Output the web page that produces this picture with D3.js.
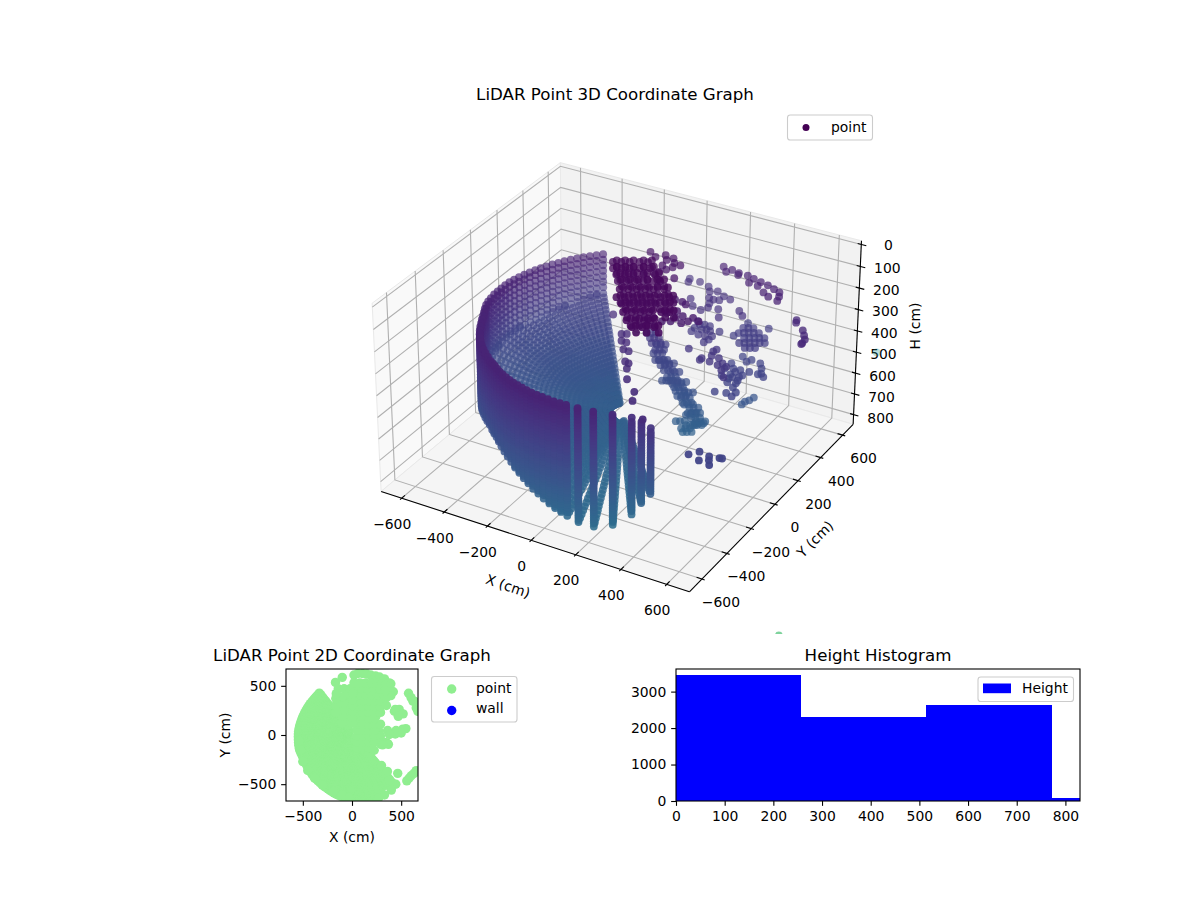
<!DOCTYPE html>
<html><head><meta charset="utf-8"><style>html,body{margin:0;background:#fff}text{font-family:"DejaVu Sans";fill:#000}</style>
<script src="https://cdn.jsdelivr.net/npm/d3@7/dist/d3.min.js"></script></head><body><svg id="c" width="1200" height="900"></svg>
<script>
// --- scan wall: one entry per azimuth (deg), radius (cm), first and last height (cm)
const wallAzimuth=[128,131,134,137,140,143,146,149,152,155,158,161,164,167,170,173,176,179,182,185,188,191,194,197,200,203,206,209,212,215,218,221,224,227,230,233,236,239,242,244,246,248.25,250.5,252.75,255,257.25,259.5,261.75,264,266.25,268.5,270.75,273,275.25,277.5,279.75,282,286,291,297,303.6,307,310];
const wallRadius=[540,535,533,531,530,530,530,530,530,531,532,533,535,537,540,542,544,545,546,547,549,551,552,552,550,548,548,550,552,556,560,564,568,572,576,580,584,588,594,597,600,606,612,617,622,627,632,636,640,645,650,654,658,661,665,668,672,680,677,642,615,618,636];
const wallTop=[195,195,195,195,195,195,196,197,197,198,198,198,199,199,200,200,200,200,202,202,202,204,204,204,205,205,206,206,206,206,206,206,206,206,206,206,206,206,206,205,205,205,205,205,205,205,205,205,205,205,205,205,205,206,208,208,208,210,220,250,280,300,320];
const wallBottom=[380,385,390,395,400,405,410,415,420,424,428,430,432,434,436,440,442,445,450,458,466,476,488,500,515,535,550,560,558,552,546,538,530,525,520,518,516,515,520,525,530,537,545,555,565,577,590,602,615,627,640,652,665,678,690,700,710,725,740,750,720,668,617];
const scanLevels=[221,247,273,299,325,351,377,403,429,451,473,495,517,539,561,583,605,627,649,671,693,715,737,759,781];
const fineLevels=[208,234,260,286,312,338,364,390,416,440,462,484,506,528,550,572,594,616,638,660,682,704,726,748,770];
const fineFromAzimuth=200;
const ringShare=[.965,.93,.895,.86,.825,.79,.755,.72,.685,.65,.615,.58,.545,.51,.475,.44,.405,.37,.335,.30,.265,.23,.195,.16,.125,.09];
const bowlCenterH=640;
// --- separate returns, [x, y, height] in cm
const darkX=[-130,-101,-72,-38,-9,-103,-74,-46,-11,24,-66,-37,-8,27,67,-34,-5,24,53,87,110,5,34,63,91,120,155,27,55,84,113,142,176,205,70,98,127,156,185,219,108,137,166,195,235,264,152,181,210,232,196,231,271];
const darkY=[157,173,190,210,226,111,128,144,164,184,73,89,106,126,149,30,47,63,80,99,113,-23,-6,10,27,43,63,-86,-70,-53,-37,-20,0,16,-121,-105,-88,-72,-55,-35,-175,-158,-142,-125,-102,-86,-225,-209,-192,-179,-260,-241,-218];
const darkH=50;
const dark2X=[-102,-73,-44,-10,19,-75,-46,-18,17,52,-38,-9,20,55,95,-6,23,52,81,115,138,33,62,91,119,148,183,55,83,112,141,170,204,233,98,126,155,184,213,247,136,165,194,223,263,292,180,209,238,260,224,259,299];
const dark2Y=[140,156,173,193,209,94,111,127,147,167,56,72,89,109,132,13,30,46,63,82,96,-40,-23,-7,10,26,46,-103,-87,-70,-54,-37,-17,-1,-138,-122,-105,-89,-72,-52,-192,-175,-159,-142,-119,-103,-242,-226,-209,-196,-277,-258,-235];
const dark2H=58;
const dark3X=[-118,-89,-60,-26,3,-91,-62,-34,1,36,-54,-25,4,39,79,-22,7,36,65,99,122,17,46,75,103,132,167,39,67,96,125,154,188,217,82,110,139,168,197,231,120,149,178,207,247,276,164,193,222,244,208,243,283];
const dark3Y=[167,183,200,220,236,121,138,154,174,194,83,99,116,136,159,40,57,73,90,109,123,-13,4,20,37,53,73,-76,-60,-43,-27,-10,10,26,-111,-95,-78,-62,-45,-25,-165,-148,-132,-115,-92,-76,-215,-199,-182,-169,-250,-231,-208];
const dark3H=44;
const arcX=[150,193,229,179,234,270,304,341,378,414,445,302,345,390,423,460,470];
const arcY=[569,562,552,536,536,551,539,529,519,503,490,501,494,458,436,458,423];
const arcH=190;
const edgeX=[569,576,627,650,667,671,671];
const edgeY=[401,383,341,307,280,250,241];
const edgeH=240;
const blockX=[301,303,339,306,341,377,299,344,380,415,346,382,417,384,420,435,395,324,359,362,397,364,400,402,321];
const blockY=[503,458,478,412,433,453,383,388,408,428,342,363,383,318,338,393,504,423,443,398,418,353,373,328,468];
const blockH=380;
const shelfX=[134,171,149,180,216,188,218,242,237,244,151,251,197,154,196];
const shelfY=[384,374,330,332,338,290,292,306,246,275,300,352,342,364,373];
const shelfH=360;
const midX=[-15,-7,34,84,108,136,131,177,212,176,154,166,208,242,288,318,150,69,106,153];
const midY=[586,560,584,566,532,548,484,525,514,487,444,410,419,360,449,419,378,441,391,480];
const midH=300;
const tailX=[147,181,203,200,239,276,260,217,221,172,188,159,280,312];
const tailY=[168,166,154,90,65,40,14,6,40,58,-11,66,74,60];
const tailH=150;
const upperX=[-97,-59,-30,-7,10,33,1,44,63,16,31,94];
const upperY=[402,376,408,375,401,367,326,333,362,273,303,256];
const upperH=110;
const ballX=[364,360,390,420,375,401,441,420,453,446,458,411,486,411,455,486,378,410,421,457,464,487,505,524,495,418,409,449];
const ballY=[244,195,212,215,142,166,164,105,115,182,81,134,53,18,31,18,314,286,308,220,301,268,231,212,221,151,192,137];
const ballH=420;
const lowX=[234,314,314,354,328,333,339,373,405,430,426,459,394];
const lowY=[127,86,71,78,156,175,123,120,91,75,42,-2,70];
const lowH=330;
const barX=[443,444,454,460];
const barY=[189,214,232,260];
const barH=560;
const stripX=[25,44,53,73,70,75,102,90,116,130,131,157,152,163,176,191,140,187,198,230,226,211,239,247,270,268,284,272,291,311,314,307,283,271,241,282];
const stripY=[192,185,183,189,168,173,153,147,144,157,145,153,133,128,134,149,114,129,122,135,116,113,106,105,107,82,97,90,84,78,85,69,56,38,48,31];
const stripH=[350,365,385,390,420,405,435,435,450,445,470,475,490,500,515,510,500,525,535,540,555,550,570,575,585,605,600,600,615,630,625,635,635,645,625,655];
const stripRightX=[41,60,69,89,86,91,118,106,132,146,147,173,168,179,192,207,156,203,214,246,242,227,255,263,286,284,300,288,307,327,330,323,299,287,257,298];
const stripRightY=[202,195,193,199,178,183,163,157,154,167,155,163,143,138,144,159,124,139,132,145,126,123,116,115,117,92,107,100,94,88,95,79,66,48,58,41];
const stripLeftX=[11,30,39,59,56,61,88,76,102,116,117,143,138,149,162,177,126,173,184,216,212,197,225,233,256,254,270,258,277,297,300,293,269,257,227,268];
const stripLeftY=[183,176,174,180,159,164,144,138,135,148,136,144,124,119,125,140,105,120,113,126,107,104,97,96,98,73,88,81,75,69,76,60,47,29,39,22];
const seamX=[-101,6,24,33,56,73,98,126,145,159,200,271,299,399];
const seamY=[109,-10,0,-57,-59,-112,-114,-190,-196,-234,-304,-372,-434,-532];
const seamH=260;
const footX=[546,573,601,621,650,633,660,670];
const footY=[-439,-402,-458,-414,-467,-438,-404,-402];
const footH=420;
const farX=[735,380];
const farY=[-3,1600];
const farH=[1470,1050];
// --- 2D footprint returns beyond the wall sector
const planeX=[20,60,106,150,190,240,280,330,395,362,294,397,-168,-99,482,431,516,448,362,277,362,294,575,619,653,465,557,602,653,277,243,226,
 -541,-530,-500,-450,-380,-300,-190,-100,-30,445,400,330,270,380,300,360,
 50,110,170, 50,110,170,230, 50,110,170,230,290, 50,110,170,230, 50,110,170,230,290, 50,110,170,230, 50,110,170,230,290, 50,110,170,230,290, 50,110,170,230,290,
 -40,20,80,140,200,260,320, -140,-80,-20,40,100,160,220,280,340, 20,80,140,200,260,320,380,
 -40,-40,-40,-40,-40,-100,-100,-100,-100,-100,-165,-165,-165,-160,
 5,5,5,5,5,5,
 548,500,440,380, 440,480,520,470, 600,640,660,670, 300,340,380,420,395,350,350,340, 290,340,370,310, 580,630];
const planeY=[610,625,625,620,610,600,590,570,520,414,431,448,535,586,224,241,59,45,45,34,-86,-93,424,345,276,-390,-466,-414,-362,328,190,-155,
 -60,-150,-270,-360,-440,-510,-575,-610,-635,-500,-560,-610,-640,-460,-310,-370,
 -130,-130,-130, -70,-70,-70,-70, -10,-10,-10,-10,-10, 50,50,50,50, 110,110,110,110,110, 170,170,170,170, 230,230,230,230,230, 290,290,290,290,290, 350,350,350,350,350,
 410,410,410,410,410,410,410, 470,470,470,470,470,470,470,470,470, 530,530,530,530,530,530,530,
 100,170,240,310,380,120,190,260,330,390,230,300,370,420,
 120,180,240,300,360,420,
 65,20,10,5, 260,260,215,190, 380,340,290,240, 520,500,480,440,400,380,300,450, -80,-75,-95,-100, -440,-390];
const wallPointsX=[],wallPointsY=[]; // the "wall" class held no points
// --- histogram
const histEdges=[0,256,514,773,1030];
const histCounts=[3460,2308,2637,82];
// --- ticks
const xyTicks=[-600,-400,-200,0,200,400,600];
const hTicks=[0,100,200,300,400,500,600,700,800];
const planeTicks=[-500,0,500];
const histXTicks=[0,100,200,300,400,500,600,700,800];
const histYTicks=[0,1000,2000,3000];

const svg=d3.select('#c');
const X0=-698,X1=698,H0=-17,H1=847;
const bx=d3.scaleLinear().domain([X0,X1]).range([-.595,.595]);
const bz=d3.scaleLinear().domain([H0,H1]).range([.36,-.36]);
function proj(x,y,h){const a=bx(x),b=bx(y),c=bz(h);
 const u=.866025*a+.5*b,v=-.25*a+.433013*b+.866025*c,n=.433013*a-.75*b+.5*c,f=10/(10-n);
 return [621.5+295.5*u*f,366-298*v*f,n];}
const line3=pts=>d3.line()(pts.map(p=>proj(...p).slice(0,2)));
const g3=svg.append('g');
const panes=[{p:[[X0,X0,H1],[X0,X1,H1],[X0,X1,H0],[X0,X0,H0]],c:'#f9f9f9'},
{p:[[X0,X1,H1],[X1,X1,H1],[X1,X1,H0],[X0,X1,H0]],c:'#f2f2f2'},
{p:[[X0,X0,H1],[X1,X0,H1],[X1,X1,H1],[X0,X1,H1]],c:'#f5f5f5'}];
g3.selectAll('path.pane').data(panes).join('path').attr('class','pane').attr('d',d=>line3(d.p)+'Z').attr('fill',d=>d.c).attr('stroke','#e9e9e9').attr('stroke-width',1);
const grid=[];
xyTicks.forEach(t=>{grid.push([[t,X0,H1],[t,X1,H1],[t,X1,H0]]);grid.push([[X1,t,H1],[X0,t,H1],[X0,t,H0]]);});
hTicks.forEach(t=>grid.push([[X0,X0,t],[X0,X1,t],[X1,X1,t]]));
g3.selectAll('path.grid').data(grid).join('path').attr('class','grid').attr('d',line3).attr('fill','none').attr('stroke','#b0b0b0').attr('stroke-width',1.1);
const axes3=[[[X0,X0,H1],[X1,X0,H1]],[[X1,X0,H1],[X1,X1,H1]],[[X1,X1,H1],[X1,X1,H0]]];
xyTicks.forEach(t=>{axes3.push([[t,X0+23,H1],[t,X0-12,H1]]);axes3.push([[X1-23,t,H1],[X1+12,t,H1]]);});
hTicks.forEach(t=>axes3.push([[X1-16,X1,t],[X1+22,X1,t]]));
g3.selectAll('path.ax').data(axes3).join('path').attr('class','ax').attr('d',line3).attr('fill','none').attr('stroke','#000').attr('stroke-width',1.1);
const fs=13.9;
const lab=(s,x,y,txt)=>s.append('text').attr('x',x).attr('y',y).attr('text-anchor','middle').attr('font-size',fs).text(txt);
const fmt=d=>String(d).replace('-','\u2212');
xyTicks.forEach(t=>{const p=proj(t,X0,H1);lab(g3,p[0]-9.5,p[1]+26.5+4,fmt(t));
 const q=proj(X1,t,H1),k=(t+600)/1200;lab(g3,q[0]+19+2*k,q[1]+23+5,fmt(t));});
hTicks.forEach(t=>{const p=proj(X1,X1,t);lab(g3,p[0]+27,p[1]+1+2*t/800+5,fmt(t));});
g3.append('text').attr('transform','translate(508,586) rotate(18.8)').attr('text-anchor','middle').attr('dy',5).attr('font-size',fs).text('X (cm)');
g3.append('text').attr('transform','translate(815,539) rotate(-45)').attr('text-anchor','middle').attr('dy',5).attr('font-size',fs).text('Y (cm)');
g3.append('text').attr('transform','translate(915,326) rotate(-90)').attr('text-anchor','middle').attr('dy',5).attr('font-size',fs).text('H (cm)');
const pts=[];
const rad=d=>d*Math.PI/180;
const wallXY=[];
wallAzimuth.forEach((a,i)=>{const R=wallRadius[i],cx=Math.cos(rad(a)),sx=Math.sin(rad(a)),T=wallTop[i],B=wallBottom[i];
 wallXY.push([R*cx,R*sx]);
 pts.push([R*cx,R*sx,T]);
 const lv=a>=fineFromAzimuth?scanLevels.concat(fineLevels):scanLevels;
 lv.filter(h=>h>T+6&&h<B-6).forEach(h=>pts.push([R*cx,R*sx,h]));
 pts.push([R*cx,R*sx,B]);
 ringShare.forEach(s=>{const h=B+(1-s)*(bowlCenterH-B);pts.push([R*s*cx,R*s*sx,h]);wallXY.push([R*s*cx,R*s*sx]);});
});
const addFixed=(xs,ys,h)=>xs.forEach((x,i)=>pts.push([x,ys[i],h]));
[[darkX,darkY,darkH],[dark2X,dark2Y,dark2H],[dark3X,dark3Y,dark3H],[arcX,arcY,arcH],[edgeX,edgeY,edgeH],[blockX,blockY,blockH],[shelfX,shelfY,shelfH],[midX,midY,midH],[tailX,tailY,tailH],[upperX,upperY,upperH],[ballX,ballY,ballH],[lowX,lowY,lowH],[barX,barY,barH],[seamX,seamY,seamH],[footX,footY,footH]].forEach(a=>addFixed(...a));
[[stripX,stripY],[stripRightX,stripRightY],[stripLeftX,stripLeftY]].forEach(([xs,ys])=>xs.forEach((x,i)=>pts.push([x,ys[i],stripH[i]])));
farX.forEach((x,i)=>pts.push([x,farY[i],farH[i]]));
const color=d3.scaleSequential(d3.interpolateViridis).domain([0,2100]);
const alpha=d3.scaleLinear().domain([-1.15,.65]).range([.3,1]).clamp(true);
const placed=pts.map(p=>{const q=proj(...p);return {sx:q[0],sy:q[1],depth:q[2],h:p[2]};}).sort((a,b)=>a.depth-b.depth);
svg.append('clipPath').attr('id','clip3').append('rect').attr('x',150).attr('y',108).attr('width',900).attr('height',526);
svg.append('g').attr('clip-path','url(#clip3)').selectAll('circle').data(placed).join('circle')
 .attr('cx',d=>d.sx).attr('cy',d=>d.sy).attr('r',3.9).attr('fill',d=>color(d.h)).attr('fill-opacity',d=>alpha(d.depth));
svg.append('text').attr('x',615).attr('y',100).attr('text-anchor','middle').attr('font-size',16.67).text('LiDAR Point 3D Coordinate Graph');
const legend=(x,y,w,h)=>svg.append('rect').attr('x',x).attr('y',y).attr('width',w).attr('height',h).attr('rx',2.8).attr('fill','#fff').attr('fill-opacity',.8).attr('stroke','#ccc').attr('stroke-width',1.1);
legend(787.5,115,85,25);
svg.append('circle').attr('cx',806).attr('cy',127.5).attr('r',3.5).attr('fill',color(0));
svg.append('text').attr('x',831).attr('y',132).attr('font-size',fs).text('point');
const L={x:286,r:418,t:669,b:801};
const px=d3.scaleLinear().domain([-671,671]).range([L.x,L.r]);
const py=d3.scaleLinear().domain([-671,671]).range([L.b,L.t]);
svg.append('clipPath').attr('id','clip2').append('rect').attr('x',L.x).attr('y',L.t).attr('width',L.r-L.x).attr('height',L.b-L.t);
const plane=wallXY.concat(planeX.map((x,i)=>[x,planeY[i]]));
svg.append('g').attr('clip-path','url(#clip2)').selectAll('circle').data(plane).join('circle').attr('cx',d=>px(d[0])).attr('cy',d=>py(d[1])).attr('r',4.7).attr('fill','#90ee90');
svg.append('g').selectAll('circle').data(wallPointsX).join('circle').attr('fill','#00f');
function axesBox(L,xs,ys,xt,yt){
 const ax=svg.append('g').attr('transform',`translate(0,${L.b})`).call(d3.axisBottom(xs).tickValues(xt).tickFormat(fmt).tickSize(4.86).tickPadding(4.9).tickSizeOuter(0));
 const ay=svg.append('g').attr('transform',`translate(${L.x},0)`).call(d3.axisLeft(ys).tickValues(yt).tickFormat(fmt).tickSize(4.86).tickPadding(4.9).tickSizeOuter(0));
 [ax,ay].forEach(a=>{a.selectAll('text').attr('font-size',fs).attr('font-family','DejaVu Sans').attr('fill','#000');a.selectAll('line').attr('stroke-width',1.1);a.select('.domain').remove();});
 svg.append('rect').attr('x',L.x).attr('y',L.t).attr('width',L.r-L.x).attr('height',L.b-L.t).attr('fill','none').attr('stroke','#000').attr('stroke-width',1.1);
}
axesBox(L,px,py,planeTicks,planeTicks);
svg.append('text').attr('x',352).attr('y',661).attr('text-anchor','middle').attr('font-size',16.67).text('LiDAR Point 2D Coordinate Graph');
svg.append('text').attr('x',352).attr('y',842).attr('text-anchor','middle').attr('font-size',fs).text('X (cm)');
svg.append('text').attr('transform','translate(225,735) rotate(-90)').attr('text-anchor','middle').attr('dy',5).attr('font-size',fs).text('Y (cm)');
legend(431.5,676.5,85.5,45.5);
svg.append('circle').attr('cx',451.7).attr('cy',689).attr('r',4.7).attr('fill','#90ee90');
svg.append('circle').attr('cx',451.7).attr('cy',710.5).attr('r',4.7).attr('fill','#00f');
svg.append('text').attr('x',476).attr('y',693).attr('font-size',fs).text('point');
svg.append('text').attr('x',476).attr('y',713).attr('font-size',fs).text('wall');
const H={x:676,r:1080,t:669,b:801};
const hx=d3.scaleLinear().domain([0,830]).range([H.x,H.r]);
const hy=d3.scaleLinear().domain([0,3620]).range([H.b,H.t]);
svg.append('clipPath').attr('id','clip4').append('rect').attr('x',H.x).attr('y',H.t).attr('width',H.r-H.x).attr('height',H.b-H.t);
svg.append('g').attr('clip-path','url(#clip4)').selectAll('rect').data(histCounts).join('rect').attr('shape-rendering','crispEdges')
 .attr('x',(d,i)=>hx(histEdges[i])).attr('width',(d,i)=>hx(histEdges[i+1])-hx(histEdges[i])).attr('y',d=>hy(d)).attr('height',d=>hy(0)-hy(d)).attr('fill','#00f');
axesBox(H,hx,hy,histXTicks,histYTicks);
svg.append('text').attr('x',878).attr('y',661).attr('text-anchor','middle').attr('font-size',16.67).text('Height Histogram');
legend(978,677,95.5,24.5);
svg.append('rect').attr('x',983).attr('y',683.5).attr('width',28).attr('height',9.7).attr('fill','#00f');
svg.append('text').attr('x',1022).attr('y',693).attr('font-size',fs).text('Height');
</script></body></html>
